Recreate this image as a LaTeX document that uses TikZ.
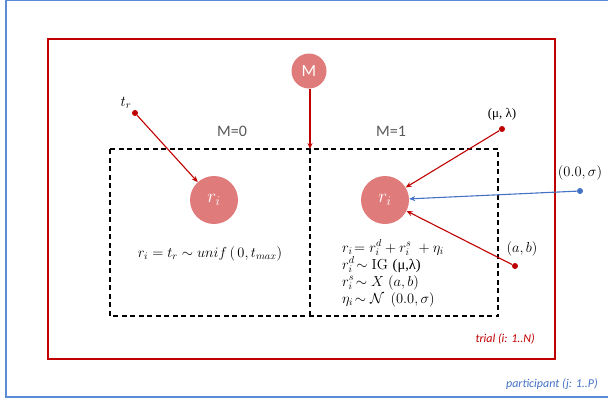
\RequirePackage{fix-cm}
\documentclass[tikz,border=0pt]{standalone}
\usepackage{fontspec}
\usepackage{amsmath}
\usetikzlibrary{arrows.meta}
\newfontfamily\calib{Carlito}
\newfontfamily\grk{Liberation Serif}
\definecolor{dred}{HTML}{C00000}
\definecolor{pinkc}{HTML}{E07B7B}
\definecolor{bframe}{HTML}{5B8BD6}
\definecolor{barrow}{HTML}{4472C4}
\definecolor{gtxt}{HTML}{595959}
\tikzset{
  x=1pt, y=-1pt,
  circnode/.style={circle, fill=pinkc, draw=none, text=white, inner sep=0pt},
  dotnode/.style={circle, fill=dred, draw=none, minimum size=6pt, inner sep=0pt},
  bdotnode/.style={circle, fill=barrow, draw=none, minimum size=6pt, inner sep=0pt},
  redarr/.style={draw=dred, line width=1.1pt, -{Stealth[length=6pt,width=5pt]}},
  bluearr/.style={draw=barrow, line width=1.1pt, -{Stealth[length=6pt,width=5pt]}},
  plate/.style={draw=black, line width=1.3pt, dash pattern=on 5pt off 3.5pt},
  mathlab/.style={inner sep=0pt, font=\fontsize{14.5}{16}\selectfont},
  mlab/.style={inner sep=0pt, text=gtxt, font=\calib\fontsize{16}{18}\selectfont},
}
\begin{document}
\begin{tikzpicture}
\useasboundingbox (0,0) rectangle (608,408);
% participant frame
\draw[bframe, line width=2.2pt] (6,-5) -- (6,397) -- (615,397);
\draw[bframe, line width=2.2pt] (6,0) -- (615,0);
\node[anchor=east, inner sep=0pt, text=barrow, font=\calib\itshape\fontsize{12}{14}\selectfont] (plab) at (598,384) {participant (j: 1..P)};
% trial frame
\draw[dred, line width=1.6pt] (48,39) rectangle (555,359);
\node[anchor=east, inner sep=0pt, text=dred, font=\calib\itshape\fontsize{12}{14}\selectfont] (tlab) at (535,339) {trial (i: 1..N)};
% dashed plate
\draw[plate] (110,149) rectangle (498,316);
\draw[plate] (310,149) -- (310,316);
\coordinate (mtop) at (310,149);
\node[mlab] (m0) at (232,131) {M=0};
\node[mlab] (m1) at (391,131) {M=1};
% M node
\node[circnode, minimum size=35pt, font=\calib\fontsize{17}{19}\selectfont] (M) at (309,71) {M};
\draw[redarr] (M.south -| mtop) -- (mtop);
% r_i nodes
\node[circnode, minimum size=48pt, font=\fontsize{19}{21}\selectfont] (r0) at (214,200) {$r_i$};
\node[circnode, minimum size=48pt, font=\fontsize{19}{21}\selectfont] (r1) at (385,200) {$r_i$};
% parameter dots
\node[dotnode] (tr) at (135,113) {};
\node[mathlab, font=\fontsize{15}{17}\selectfont] (trl) at (126,103) {$t_r$};
\node[dotnode] (ml) at (502,129) {};
\node[inner sep=0pt, font=\grk\fontsize{13}{15}\selectfont] (mll) at (502,114) {(μ, λ)};
\node[bdotnode] (ns) at (580,191) {};
\node[mathlab] (nsl) at (580,173) {$(0.0,\sigma)$};
\node[dotnode] (ab) at (515,266) {};
\node[mathlab] (abl) at (522,249) {$(a,b)$};
% connectors
\draw[redarr] (tr) -- (r0);
\draw[redarr] (ml) -- (r1);
\draw[redarr] (ab) -- (r1);
\draw[bluearr] (ns) -- (r1);
% formulas
\node[mathlab] (f0) at (210,254) {$r_i = t_r \sim unif\,(\,0, t_{max})$};
\node[mathlab, anchor=base west] (f1) at (342,252) {$r_i\!= r_i^d + r_i^s\; + \eta_i$};
\node[mathlab, anchor=base west] (f2) at (342,269) {$r_i^d\!\sim \mathrm{IG}$ {\grk (μ,λ)}};
\node[mathlab, anchor=base west] (f3) at (342,286) {$r_i^s\!\sim X\;(a,b)$};
\node[mathlab, anchor=base west] (f4) at (342,303) {$\eta_i\!\sim \mathcal{N}\;\,(0.0,\sigma)$};
\end{tikzpicture}
\end{document}
